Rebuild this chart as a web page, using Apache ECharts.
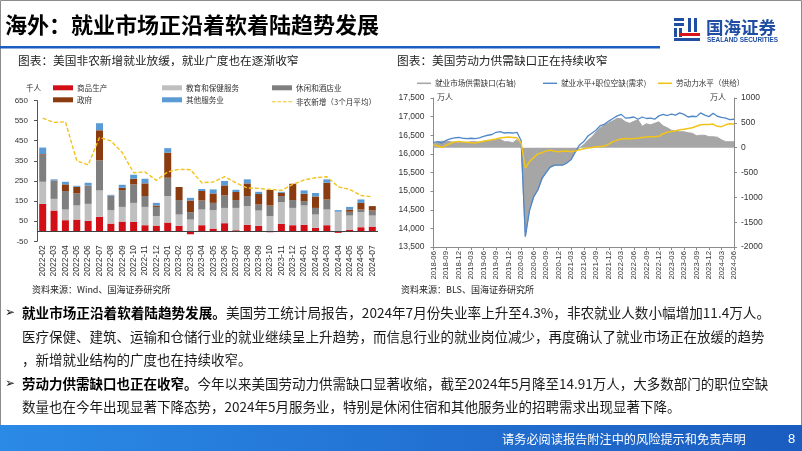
<!DOCTYPE html>
<html>
<head>
<meta charset="utf-8">
<script src="https://cdn.jsdelivr.net/npm/echarts@6/dist/echarts.min.js"></script>
<style>
  html, body { margin: 0; padding: 0; background: #fff; }
  #main { width: 802px; height: 451px; }
</style>
</head>
<body>
<div id="main"></div>
<script>
(function (echarts) {
    'use strict';

    // ---- left chart: nonfarm payroll contributions (thousand persons)
    const payrollMonths = ['2022-02', '2022-03', '2022-04', '2022-05', '2022-06', '2022-07', '2022-08', '2022-09', '2022-10', '2022-11', '2022-12',
        '2023-01', '2023-02', '2023-03', '2023-04', '2023-05', '2023-06', '2023-07', '2023-08', '2023-09', '2023-10', '2023-11', '2023-12',
        '2024-01', '2024-02', '2024-03', '2024-04', '2024-05', '2024-06', '2024-07'];
    const goodsProducing = [136, 103, 55, 58, 52, 72, 38, 48, 47, 30, 28, 43, 27, -15, 30, 13, 40, 5, 32, 27, -5, 37, 30, 32, 17, 30, -8, 8, 20, 23];
    const eduHealth = [110, 58, 53, 70, 84, 131, 67, 73, 94, 91, 47, 132, 56, 58, 78, 92, 76, 111, 93, 76, 75, 108, 86, 96, 66, 78, 97, 70, 75, 55];
    const leisure = [135, 92, 92, 60, 92, 150, 73, 84, 92, 54, 46, 91, 72, 37, 45, 36, 62, 39, 50, 30, 53, 30, 39, 22, 33, 50, 0, 19, 13, 25];
    const government = [3, 0, 33, 33, 0, 149, 0, 11, 28, 63, 7, 125, 65, 58, 47, 47, 50, 40, 63, 52, 77, 16, 81, 36, 57, 83, 0, 11, 33, 22];
    const otherServices = [32, 5, 13, 5, 13, 35, 3, 15, 20, 23, 13, 22, 0, 13, 10, 20, 22, 11, 20, 11, 0, 5, 0, 17, 17, 17, 8, 13, 17, 0];
    const payroll3mAvg = [562, 541, 544, 350, 330, 466, 449, 391, 291, 295, 253, 295, 308, 306, 241, 245, 271, 241, 215, 213, 208, 203, 233, 255, 266, 271, 221, 208, 178, 171];
    const payrollTicks = {min: -50, max: 650, interval: 100};

    // ---- right chart: labor demand / supply (10k persons), monthly 2018-06 .. 2024-06
    const laborStart = {year: 2018, month: 6, count: 73};
    const laborGap = [70, 110, 130, 130, 120, 110, 110, 100, 100, 120,
        120, 110, 130, 140, 140, 170, 170, 120, 120, 100,
        160, 60, -1790, -1250, -1000, -850, -640, -480, -400, -360,
        -350, -350, -300, -230, -90, 0, 60, 150, 220, 320,
        400, 460, 500, 540, 590, 580, 520, 490, 530, 560,
        430, 480, 460, 490, 520, 440, 400, 350, 330, 320,
        320, 300, 290, 240, 250, 250, 220, 220, 210, 160,
        120, 120, 120];
    const laborDemand = [16310, 16330, 16290, 16360, 16400, 16430, 16440, 16420, 16410, 16420,
        16410, 16430, 16470, 16500, 16520, 16580, 16600, 16560, 16570, 16560,
        16580, 16350, 13780, 14480, 14850, 15030, 15350, 15500, 15650, 15700,
        15700, 15700, 15760, 15850, 16060, 16240, 16330, 16480, 16560, 16640,
        16760, 16800, 16880, 16950, 17020, 17060, 16960, 16970, 16990, 16930,
        16990, 16950, 16960, 16930, 17020, 17060, 17030, 17070, 17040, 17100,
        17060, 16990, 17010, 17000, 17100, 17040, 17000, 17090, 17010, 16980,
        16960, 16920, 16930];
    const laborSupply = [16240, 16220, 16170, 16230, 16280, 16320, 16330, 16320, 16310, 16300,
        16290, 16320, 16340, 16360, 16380, 16400, 16430, 16440, 16450, 16440,
        16430, 16290, 15620, 15790, 15900, 16000, 16030, 16080, 16100, 16070,
        16060, 16070, 16080, 16060, 16080, 16110, 16140, 16160, 16170, 16190,
        16200, 16210, 16260, 16330, 16370, 16400, 16410, 16400, 16410, 16420,
        16440, 16450, 16460, 16460, 16470, 16540, 16580, 16600, 16620, 16650,
        16660, 16680, 16700, 16740, 16780, 16790, 16790, 16800, 16740, 16730,
        16780, 16810, 16800];
    const levelTicks = {min: 13500, max: 17500, interval: 500};
    const gapTicks = {min: -2000, max: 1000, interval: 500};

    const FONT = '"Noto Sans CJK SC", "Noto Sans", sans-serif';
    const NUM = '"Liberation Sans", Arial, sans-serif';

    // month category labels for the right chart
    const laborMonths = [];
    for (let k = 0; k < laborStart.count; k++) {
        const m = laborStart.month - 1 + k;
        const y = laborStart.year + Math.floor(m / 12);
        const mm = (m % 12) + 1;
        laborMonths.push(y + '-' + (mm < 10 ? '0' : '') + mm);
    }

    const thousands = (v) => String(v).replace(/\B(?=(\d{3})+(?!\d))/g, ',');

    function txt(x, y, text, size, extra) {
        return {
            type: 'text', x: x, y: y, silent: true,
            style: Object.assign({
                text: text, fill: '#222', fontSize: size, fontFamily: FONT,
                textAlign: 'left', textVerticalAlign: 'middle'
            }, extra || {})
        };
    }
    function box(x, y, w, h, fill) {
        return {type: 'rect', silent: true, shape: {x: x, y: y, width: w, height: h}, style: {fill: fill}};
    }

    const barColors = {
        goods: '#d20f16', edu: '#bfbfbf', leisure: '#7f7f7f', gov: '#8a3b0f', other: '#5b9bd5'
    };

    function stackBar(name, data, color) {
        return {
            name: name, type: 'bar', stack: 'jobs', xAxisIndex: 0, yAxisIndex: 0,
            barWidth: 7, data: data, itemStyle: {color: color}
        };
    }

    const series = [
        Object.assign(stackBar('商品生产', goodsProducing, barColors.goods), {
            markLine: {
                silent: true, symbol: ['none', 'none'], label: {show: false},
                lineStyle: {color: '#404040', width: 1, type: 'solid'},
                data: [{yAxis: 0}]
            }
        }),
        stackBar('教育和保健服务', eduHealth, barColors.edu),
        stackBar('休闲和酒店业', leisure, barColors.leisure),
        stackBar('政府', government, barColors.gov),
        stackBar('其他服务业', otherServices, barColors.other),
        {
            name: '非农新增（3个月平均）', type: 'line', xAxisIndex: 0, yAxisIndex: 0,
            data: payroll3mAvg, symbol: 'none', z: 5,
            lineStyle: {color: '#f5c21b', width: 1.4, type: [4, 2]},
            itemStyle: {color: '#f5c21b'}
        },
        {
            name: '就业市场供需缺口(右轴)', type: 'line', xAxisIndex: 1, yAxisIndex: 2,
            data: laborGap, symbol: 'none',
            lineStyle: {color: '#a6a6a6', width: 1},
            itemStyle: {color: '#a6a6a6'},
            areaStyle: {color: '#a6a6a6', opacity: 1}
        },
        {
            name: '就业水平+职位空缺(需求)', type: 'line', xAxisIndex: 1, yAxisIndex: 1,
            data: laborDemand, symbol: 'none', z: 4,
            lineStyle: {color: '#4f87c9', width: 1.3},
            itemStyle: {color: '#4f87c9'}
        },
        {
            name: '劳动力水平（供给）', type: 'line', xAxisIndex: 1, yAxisIndex: 1,
            data: laborSupply, symbol: 'none', z: 5,
            lineStyle: {color: '#f2c318', width: 1.5},
            itemStyle: {color: '#f2c318'}
        }
    ];

    const DASH_ICON = 'path://M0 0H4V1H0ZM6 0H10V1H6ZM12 0H16V1H12ZM18 0H22V1H18Z';

    function legendAt(name, left, top, w, h, icon) {
        return {
            data: [name], left: left, top: top, padding: 0, itemGap: 0,
            itemWidth: w, itemHeight: h, selectedMode: false, icon: icon,
            textStyle: {fontSize: 7.6, color: '#333', fontFamily: FONT, padding: [0, 0, 0, -1]}
        };
    }

    const legends = [
        legendAt('商品生产', 53, 84, 20, 5, 'rect'),
        legendAt('教育和保健服务', 162, 84, 20, 5, 'rect'),
        legendAt('休闲和酒店业', 272, 84, 20, 5, 'rect'),
        legendAt('政府', 53, 96, 20, 5, 'rect'),
        legendAt('其他服务业', 162, 96, 20, 5, 'rect'),
        legendAt('非农新增（3个月平均）', 272, 98, 20, 1.3, DASH_ICON),
        legendAt('就业市场供需缺口(右轴)', 417, 79.5, 14, 1.6, 'rect'),
        legendAt('就业水平+职位空缺(需求)', 543, 79.5, 14, 1.4, 'rect'),
        legendAt('劳动力水平（供给）', 658, 79.5, 14, 1.6, 'rect')
    ];

    const axisGray = '#8c8c8c';

    const option = {
        animation: false,
        backgroundColor: '#fff',
        textStyle: {fontFamily: FONT},
        legend: legends,
        grid: [
            {left: 37, top: 100.5, width: 341, height: 140.8},
            {left: 433.5, top: 98, width: 300.5, height: 149}
        ],
        xAxis: [
            {
                type: 'category', gridIndex: 0, data: payrollMonths,
                axisLine: {show: false, onZero: false}, axisTick: {show: false},
                axisLabel: {rotate: 90, interval: 0, fontSize: 8.5, color: '#333', fontFamily: NUM, margin: 4}
            },
            {
                type: 'category', gridIndex: 1, data: laborMonths, boundaryGap: false,
                axisLine: {onZero: false, lineStyle: {color: axisGray}},
                axisTick: {interval: 2, length: 3, lineStyle: {color: axisGray}},
                axisLabel: {rotate: 90, interval: 2, fontSize: 7.8, color: '#333', fontFamily: NUM, margin: 4}
            }
        ],
        yAxis: [
            {
                type: 'value', gridIndex: 0,
                min: payrollTicks.min, max: payrollTicks.max, interval: payrollTicks.interval,
                splitLine: {show: false},
                axisLine: {show: true, lineStyle: {color: '#555'}},
                axisTick: {show: true, length: 3, lineStyle: {color: '#555'}},
                axisLabel: {fontSize: 8, color: '#333', fontFamily: NUM, margin: 9}
            },
            {
                type: 'value', gridIndex: 1, position: 'left',
                min: levelTicks.min, max: levelTicks.max, interval: levelTicks.interval,
                splitLine: {show: false},
                axisLine: {show: true, lineStyle: {color: axisGray}},
                axisTick: {show: true, length: 3, lineStyle: {color: axisGray}},
                axisLabel: {fontSize: 8.5, color: '#333', fontFamily: NUM, margin: 9, formatter: thousands}
            },
            {
                type: 'value', gridIndex: 1, position: 'right',
                min: gapTicks.min, max: gapTicks.max, interval: gapTicks.interval,
                splitLine: {show: false},
                axisLine: {show: true, lineStyle: {color: axisGray}},
                axisTick: {show: true, length: 3, lineStyle: {color: axisGray}},
                axisLabel: {fontSize: 8.5, color: '#333', fontFamily: NUM, margin: 7, formatter: (v) => String(v)}
            }
        ],
        series: series,
        graphic: [
            // slide frame
            {type: 'rect', silent: true, shape: {x: 0.5, y: 0.5, width: 801, height: 450},
                style: {fill: 'none', stroke: '#8c8c8c', lineWidth: 1}},
            // header
            txt(5, 25, '海外：就业市场正沿着软着陆趋势发展', 22, {fill: '#000', fontWeight: 'bold'}),
            box(0, 46, 660, 2.5, '#1d5cc0'),
            // logo
            box(674, 18, 10, 3, '#1f4ea3'),
            box(674, 23, 10, 3, '#1f4ea3'),
            box(674, 28, 3, 9, '#1f4ea3'),
            box(679, 28, 3, 9, '#1f4ea3'),
            box(688, 18, 3, 14, '#1f4ea3'),
            box(694, 18, 3, 14, '#1f4ea3'),
            box(680, 33, 20, 3, '#d7141a'),
            box(674, 38, 26, 3, '#1f4ea3'),
            txt(706, 27, '国海证券', 17.5, {fill: '#1f4ea3', fontWeight: 'bold'}),
            txt(707, 40, 'SEALAND SECURITIES', 6.4, {fill: '#1f4ea3', fontWeight: 'bold', fontFamily: NUM}),
            // chart captions
            txt(18, 61, '图表：美国非农新增就业放缓，就业广度也在逐渐收窄', 11.7),
            txt(397, 61, '图表：美国劳动力供需缺口正在持续收窄', 11.7),
            txt(26, 88, '千人', 7.6, {fill: '#333'}),
            txt(437, 97, '万人', 8, {fill: '#333'}),
            txt(710, 97, '万人', 8, {fill: '#333'}),
            txt(32, 290, '资料来源：Wind、国海证券研究所', 9),
            txt(401, 290, '资料来源：BLS、国海证券研究所', 9),
            // body text
            txt(5, 313, '➢', 12, {fontFamily: '"DejaVu Sans", sans-serif', fill: '#111'}),
            txt(22, 313, '{b|就业市场正沿着软着陆趋势发展。}{n|美国劳工统计局报告，2024年7月份失业率上升至4.3%，非农就业人数小幅增加11.4万人。}', 13.6, {
                rich: {
                    b: {fontWeight: 'bold', fontSize: 13.6, fontFamily: FONT, fill: '#000'},
                    n: {fontSize: 13.6, fontFamily: FONT, fill: '#1a1a1a'}
                }
            }),
            txt(22, 337, '医疗保健、建筑、运输和仓储行业的就业继续呈上升趋势，而信息行业的就业岗位减少，再度确认了就业市场正在放缓的趋势', 13.5, {fill: '#1a1a1a'}),
            txt(22, 360, '，新增就业结构的广度也在持续收窄。', 13.5, {fill: '#1a1a1a'}),
            txt(5, 384, '➢', 12, {fontFamily: '"DejaVu Sans", sans-serif', fill: '#111'}),
            txt(22, 384, '{b|劳动力供需缺口也正在收窄。}{n|今年以来美国劳动力供需缺口显著收缩，截至2024年5月降至14.91万人，大多数部门的职位空缺}', 13.5, {
                rich: {
                    b: {fontWeight: 'bold', fontSize: 13.5, fontFamily: FONT, fill: '#000'},
                    n: {fontSize: 13.5, fontFamily: FONT, fill: '#1a1a1a'}
                }
            }),
            txt(22, 407, '数量也在今年出现显著下降态势，2024年5月服务业，特别是休闲住宿和其他服务业的招聘需求出现显著下降。', 13.5, {fill: '#1a1a1a'}),
            // footer
            {
                type: 'rect', silent: true, shape: {x: 0, y: 425, width: 802, height: 26},
                style: {
                    fill: new echarts.graphic.LinearGradient(0, 0, 1, 0, [
                        {offset: 0, color: '#2b8ae6'},
                        {offset: 1, color: '#1a5cc0'}
                    ])
                }
            },
            txt(502, 439, '请务必阅读报告附注中的风险提示和免责声明', 12.2, {fill: '#fff'}),
            txt(788, 439, '8', 13, {fill: '#fff', fontFamily: NUM})
        ]
    };

    const chart = echarts.init(document.getElementById('main'), null, {renderer: 'canvas'});
    chart.setOption(option);

})(echarts);
</script>
</body>
</html>
